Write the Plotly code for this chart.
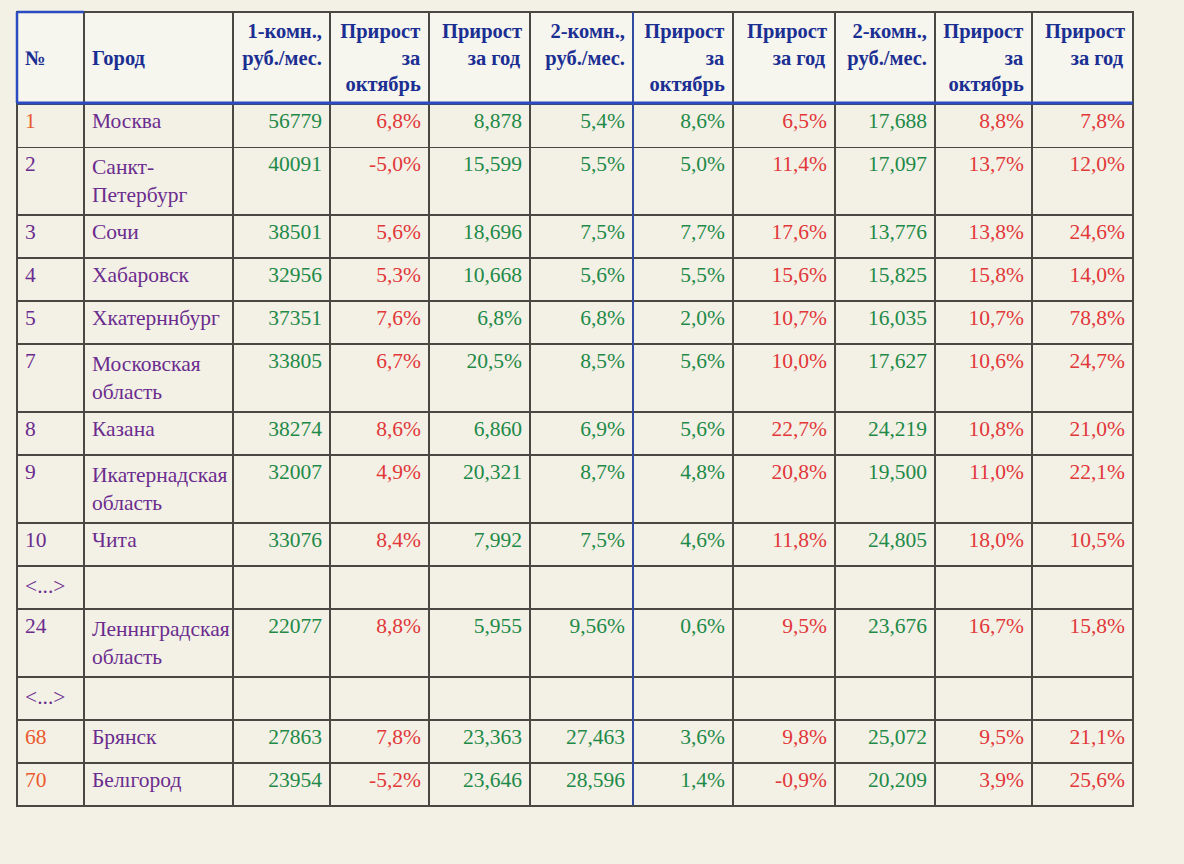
import plotly.graph_objects as go

nums = ["1", "2", "3", "4", "5", "7", "8", "9", "10", "<...>", "24", "<...>", "68", "70"]
cities = ["Москва", "Санкт-<br>Петербург", "Сочи", "Хабаровск", "Хкатерннбург",
          "Московская<br>область", "Казана", "Икатернадская<br>область", "Чита", "",
          "Ленннградская<br>область", "", "Брянск", "Белıгород"]
rent_1r = ["56779", "40091", "38501", "32956", "37351", "33805", "38274", "32007", "33076", "",
           "22077", "", "27863", "23954"]
oct_1r = ["6,8%", "-5,0%", "5,6%", "5,3%", "7,6%", "6,7%", "8,6%", "4,9%", "8,4%", "",
          "8,8%", "", "7,8%", "-5,2%"]
year_1r = ["8,878", "15,599", "18,696", "10,668", "6,8%", "20,5%", "6,860", "20,321", "7,992", "",
           "5,955", "", "23,363", "23,646"]
rent_2r_a = ["5,4%", "5,5%", "7,5%", "5,6%", "6,8%", "8,5%", "6,9%", "8,7%", "7,5%", "",
             "9,56%", "", "27,463", "28,596"]
oct_2r_a = ["8,6%", "5,0%", "7,7%", "5,5%", "2,0%", "5,6%", "5,6%", "4,8%", "4,6%", "",
            "0,6%", "", "3,6%", "1,4%"]
year_2r_a = ["6,5%", "11,4%", "17,6%", "15,6%", "10,7%", "10,0%", "22,7%", "20,8%", "11,8%", "",
             "9,5%", "", "9,8%", "-0,9%"]
rent_2r_b = ["17,688", "17,097", "13,776", "15,825", "16,035", "17,627", "24,219", "19,500", "24,805", "",
             "23,676", "", "25,072", "20,209"]
oct_2r_b = ["8,8%", "13,7%", "13,8%", "15,8%", "10,7%", "10,6%", "10,8%", "11,0%", "18,0%", "",
            "16,7%", "", "9,5%", "3,9%"]
year_2r_b = ["7,8%", "12,0%", "24,6%", "14,0%", "78,8%", "24,7%", "21,0%", "22,1%", "10,5%", "",
             "15,8%", "", "21,1%", "25,6%"]

headers = [["№"], ["Город"], ["1-комн.,", "руб./мес."], ["Прирост", "за", "октябрь"],
           ["Прирост", "за год"], ["2-комн.,", "руб./мес."], ["Прирост", "за", "октябрь"],
           ["Прирост", "за год"], ["2-комн.,", "руб./мес."], ["Прирост", "за", "октябрь"],
           ["Прирост", "за год"]]

GREEN = "#1f8a48"
RED = "#e2383a"
PURPLE = "#6b2c8e"
ORANGE = "#ea5a2c"
NAVY = "#1b2f93"
BLUE = "#2a4cc0"
GRID = "#4a4842"
PAPER = "#f3f1e6"

# rough Times-bold advance widths, used to right-align the lines of multi-line headers
W = {"П": 778, "р": 556, "и": 556, "о": 500, "с": 444, "т": 500, "з": 444, "а": 500,
     "к": 556, "я": 556, "б": 500, "ь": 500, "г": 444, "д": 556, " ": 250, "1": 500,
     "2": 500, "-": 333, "м": 667, "н": 556, ".": 250, ",": 250, "у": 500, "/": 278, "е": 444}


def ralign(lines):
    widths = [sum(W.get(ch, 500) for ch in ln) for ln in lines]
    top = max(widths)
    return "<br>".join("\u00a0" * round((top - w) / 250) + ln for ln, w in zip(lines, widths))


# single-word headers sit on the middle line in the original
header_text = ["<b>\u00a0<br>%s</b>" % h[0] for h in headers[:2]] + \
              ["<b>%s</b>" % ralign(h) for h in headers[2:]]

num_colors = [ORANGE if n in ("1", "68", "70") else PURPLE for n in nums]
col_colors = [num_colors, PURPLE, GREEN, RED, GREEN, GREEN, GREEN, RED, GREEN, RED, RED]

fig = go.Figure(go.Table(
    columnwidth=[67, 149, 97, 99, 101, 103, 100, 102, 100, 97, 101],
    header=dict(
        values=header_text,
        align=["left", "left"] + ["right"] * 9,
        font=dict(family="Liberation Serif", size=20.5, color=NAVY),
        fill_color="#f6f5ee",
        line=dict(color=GRID, width=1.6),
        height=87,
    ),
    cells=dict(
        values=[nums, cities, rent_1r, oct_1r, year_1r, rent_2r_a, oct_2r_a, year_2r_a,
                rent_2r_b, oct_2r_b, year_2r_b],
        align=["left", "left"] + ["right"] * 9,
        font=dict(family="Liberation Serif", size=21.5, color=col_colors),
        fill_color=PAPER,
        line=dict(color=GRID, width=1.6),
        height=43,
    ),
    domain=dict(x=[17 / 1184, 1133 / 1184], y=[0.0, 1 - 12 / 864]),
))


def px_x(v):
    return v / 1184


def px_y(v):
    return 1 - v / 864


# blue pen strokes over the printed grid
blue_lines = [
    (17, 103, 1133, 103, 3),   # under the header
    (17, 12, 17, 103, 2.5),    # header left edge
    (17, 12, 84, 12, 2.5),     # header top, first cell
    (633, 12, 633, 805, 1.5),  # between the two 2-room blocks
]
for x0, y0, x1, y1, w in blue_lines:
    fig.add_shape(type="line", xref="paper", yref="paper",
                  x0=px_x(x0), y0=px_y(y0), x1=px_x(x1), y1=px_y(y1),
                  line=dict(color=BLUE, width=w))

fig.update_layout(
    width=1184, height=864,
    margin=dict(l=0, r=0, t=0, b=0),
    paper_bgcolor=PAPER,
)

fig.write_html("out.html",
               config=dict(displayModeBar=False),
               post_script="document.body.style.margin='0';"
                           "document.body.style.background='%s';" % PAPER)
